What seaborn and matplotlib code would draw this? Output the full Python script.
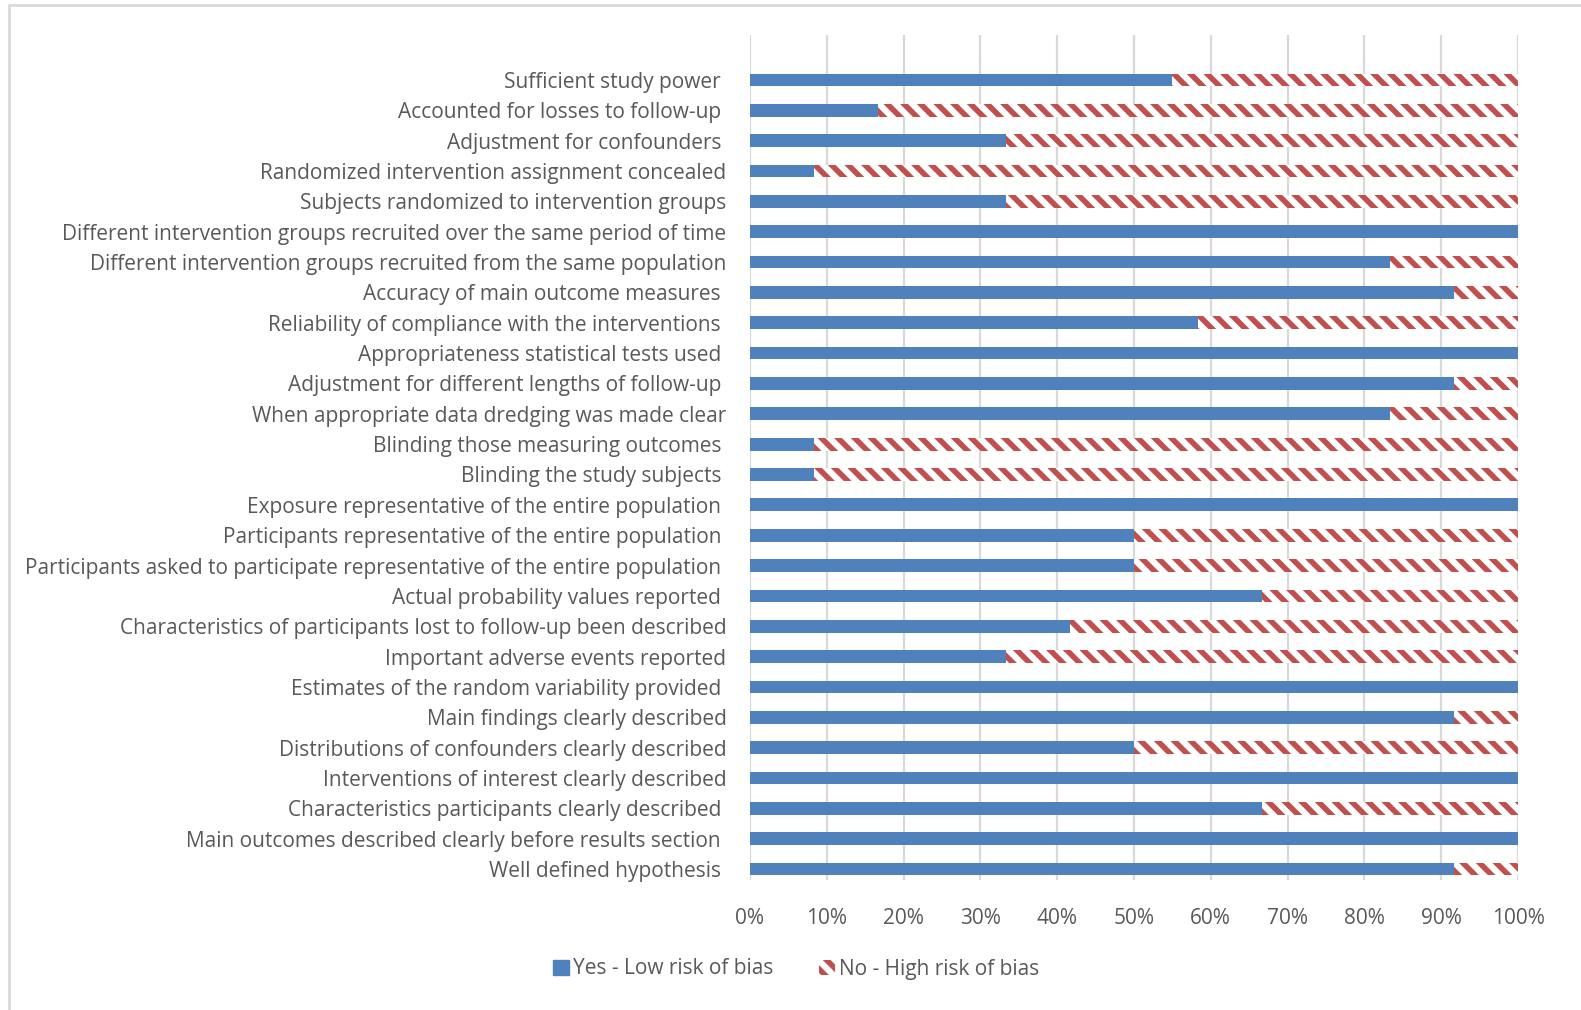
import matplotlib
matplotlib.use("Agg")
import matplotlib.pyplot as plt
import seaborn as sns
import pandas as pd
import numpy as np
from matplotlib.patches import Patch
from matplotlib.lines import Line2D

categories = [
    "Sufficient study power ",
    "Accounted for losses to follow-up ",
    "Adjustment for confounders ",
    "Randomized intervention assignment concealed",
    "Subjects randomized to intervention groups",
    "Different intervention groups recruited over the same period of time",
    "Different intervention groups recruited from the same population",
    "Accuracy of main outcome measures ",
    "Reliability of compliance with the interventions ",
    "Appropriateness statistical tests used ",
    "Adjustment for different lengths of follow-up ",
    "When appropriate data dredging was made clear",
    "Blinding those measuring outcomes ",
    "Blinding the study subjects ",
    "Exposure representative of the entire population ",
    "Participants representative of the entire population ",
    "Participants asked to participate representative of the entire population ",
    "Actual probability values reported ",
    "Characteristics of participants lost to follow-up been described",
    "Important adverse events reported",
    "Estimates of the random variability provided ",
    "Main findings clearly described",
    "Distributions of confounders clearly described",
    "Interventions of interest clearly described",
    "Characteristics participants clearly described ",
    "Main outcomes described clearly before results section ",
    "Well defined hypothesis ",
]
yes_low_risk = [55.0, 16.7, 33.3, 8.3, 33.3, 100.0, 83.3, 91.7, 58.3, 100.0, 91.7, 83.3,
                8.3, 8.3, 100.0, 50.0, 50.0, 66.7, 41.7, 33.3, 100.0, 91.7, 50.0, 100.0,
                66.7, 100.0, 91.7]
no_high_risk = [45.0, 83.3, 66.7, 91.7, 66.7, 0.0, 16.7, 8.3, 41.7, 0.0, 8.3, 16.7,
                91.7, 91.7, 0.0, 50.0, 50.0, 33.3, 58.3, 66.7, 0.0, 8.3, 50.0, 0.0,
                33.3, 0.0, 8.3]
xticks = [0, 10, 20, 30, 40, 50, 60, 70, 80, 90, 100]
xtick_labels = [f"{t}%" for t in xticks]

BLUE = "#4f81bd"
RED = "#c0504d"
TXT = "#595959"
GRID = "#d9d9d9"
FS = 15

sns.set_theme(style="white")
plt.rcParams["font.family"] = ["Open Sans", "DejaVu Sans"]
plt.rcParams["hatch.linewidth"] = 4.0
plt.rcParams["hatch.color"] = RED

df = pd.DataFrame({"cat": categories, "yes": yes_low_risk, "no": no_high_risk})
df["total"] = df["yes"] + df["no"]

fig = plt.figure(figsize=(15.81, 10.10), dpi=100)
ax = fig.add_axes([750 / 1581, 1 - 880 / 1010, (1518 - 750) / 1581, (880 - 35) / 1010])

sns.barplot(data=df, y="cat", x="total", orient="h", ax=ax, color="white",
            width=0.42, linewidth=0, saturation=1)
for p in ax.patches:
    p.set_hatch("\\\\")
    p.set_edgecolor(RED)
    p.set_facecolor("white")
    p.set_linewidth(0)
sns.barplot(data=df, y="cat", x="yes", orient="h", ax=ax, color=BLUE,
            width=0.42, linewidth=0, saturation=1)

ax.set_xlim(0, 100)
ax.set_ylim(len(categories) - 1 + 0.36, -1.48)
ax.set_xticks(xticks)
ax.set_xticklabels(xtick_labels)
ax.set_xlabel("")
ax.set_ylabel("")
for s in ax.spines.values():
    s.set_visible(False)
ax.grid(False)
for t in xticks:
    ax.axvline(t, color=GRID, lw=1.6, zorder=0)
ax.tick_params(axis="y", length=0, pad=17, labelsize=FS, labelcolor=TXT)
ax.tick_params(axis="x", length=0, pad=20, labelsize=FS, labelcolor=TXT)

handles = [Patch(facecolor=BLUE, edgecolor=BLUE, label="Yes - Low risk of bias"),
           Patch(facecolor="white", edgecolor=RED, hatch="\\\\", linewidth=0,
                 label="No - High risk of bias")]
leg = fig.legend(handles=handles, loc="center", bbox_to_anchor=(796 / 1581, 1 - 969 / 1010),
                 ncol=2, frameon=False, fontsize=FS, handlelength=0.75, handleheight=0.75,
                 handletextpad=0.2, columnspacing=2.2)
for t in leg.get_texts():
    t.set_color(TXT)

fig.add_artist(Line2D([9 / 1581, 1], [1 - 5 / 1010, 1 - 5 / 1010], color=GRID, lw=2,
                      transform=fig.transFigure))
fig.add_artist(Line2D([9 / 1581, 9 / 1581], [0, 1 - 5 / 1010], color=GRID, lw=2,
                      transform=fig.transFigure))

fig.savefig("out.png", dpi=100, facecolor="white")
